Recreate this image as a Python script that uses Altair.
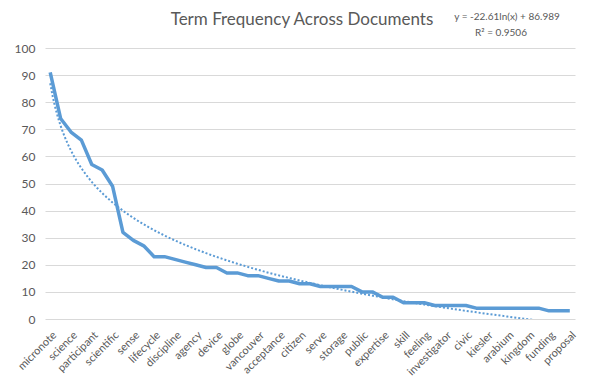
import altair as alt
import pandas as pd

# x-axis labels (every other category is labelled, as in the source)
labels = ["micronote", "science", "participant", "scientific", "sense", "lifecycle",
          "discipline", "agency", "device", "globe", "vancouver", "acceptance",
          "citizen", "serve", "storage", "public", "expertise", "skill", "feeling",
          "investigator", "civic", "kiesler", "arabium", "kingdom", "funding", "proposal"]

# term frequencies, one per category (51 categories)
freq = [91, 74, 69, 66, 57, 55, 49, 32, 29, 27,
        23, 23, 22, 21, 20, 19, 19, 17, 17, 16,
        16, 15, 14, 14, 13, 13, 12, 12, 12, 12,
        10, 10, 8, 8, 6, 6, 6, 5, 5, 5,
        5, 4, 4, 4, 4, 4, 4, 4, 3, 3, 3]

y_ticks = list(range(0, 101, 10))
title_text = "Term Frequency Across Documents"
eq_text = "y = -22.61ln(x) + 86.989"
r2_text = "R² = 0.9506"

idx = list(range(1, len(freq) + 1))
df = pd.DataFrame({"idx": idx, "freq": freq})

label_js = "[" + ",".join("'" + l + "'" for l in labels) + "]"

gray = "#595959"
blue = "#5b9bd5"

x_enc = alt.X(
    "idx:Q",
    scale=alt.Scale(domain=[0.5, len(freq) + 0.5], nice=False, zero=False),
    axis=alt.Axis(
        values=idx[::2],
        labelExpr=label_js + "[(datum.value-1)/2]",
        labelAngle=-45, labelAlign="right", labelBaseline="top",
        grid=False, ticks=False, domain=False, labelPadding=10,
        labelColor=gray, labelFontSize=11, title=None, labelOverlap=False,
    ),
)
y_enc = alt.Y(
    "freq:Q",
    scale=alt.Scale(domain=[0, 100], nice=False),
    axis=alt.Axis(
        values=y_ticks, grid=True, gridColor="#d9d9d9", ticks=False, domain=False,
        labelPadding=10, title=None, labelColor=gray, labelFontSize=12,
    ),
)

base = alt.Chart(df)
line = base.mark_line(color=blue, strokeWidth=3.5, strokeJoin="round").encode(x=x_enc, y=y_enc)
trend = (
    base.transform_regression("idx", "freq", method="log", extent=[1, len(freq)])
    .mark_line(color=blue, strokeWidth=2, strokeDash=[2, 2], clip=True)
    .encode(x=x_enc, y=y_enc)
)

one = pd.DataFrame({"a": [0]})
title = alt.Chart(one).mark_text(text=title_text, fontSize=17, color=gray, align="center",
                                 baseline="middle").encode(x=alt.value(257), y=alt.value(-28))
eq = alt.Chart(one).mark_text(text=eq_text, fontSize=10, color=gray, align="center",
                              baseline="middle").encode(x=alt.value(462), y=alt.value(-31))
r2 = alt.Chart(one).mark_text(text=r2_text, fontSize=10, color=gray, align="center",
                              baseline="middle").encode(x=alt.value(456), y=alt.value(-15))

chart = (
    alt.layer(line, trend, title, eq, r2)
    .properties(width=530, height=271, autosize="none",
                padding={"left": 37, "top": 40, "right": 13, "bottom": 60})
    .configure(font="Lato", background="white")
    .configure_view(stroke=None)
)

chart.save("out.html", embed_options={"renderer": "svg", "actions": False})
